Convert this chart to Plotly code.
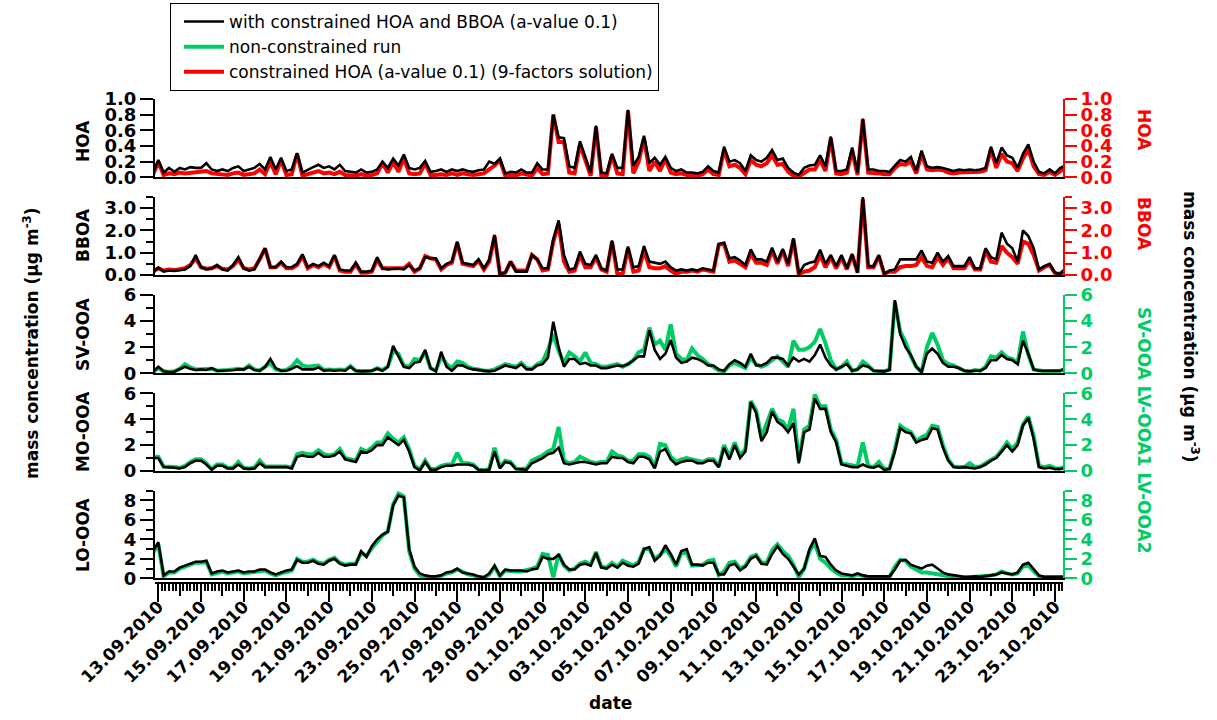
import plotly.graph_objects as go
from datetime import datetime, timedelta

# ---------------- data (6-hourly readings, first point 12.09.2010 18:00) ----------------
START = datetime(2010, 9, 12, 18, 0)
STEP_HOURS = 6

hoa_black = [0.05,
    0.22, 0.06, 0.12, 0.07,  0.12, 0.10, 0.13, 0.12,  0.12, 0.18, 0.10, 0.08,  0.10, 0.08, 0.12, 0.14,
    0.08, 0.10, 0.12, 0.17,  0.10, 0.26, 0.10, 0.25,  0.08, 0.10, 0.31, 0.06,  0.10, 0.13, 0.16, 0.12,
    0.14, 0.10, 0.16, 0.08,  0.07, 0.06, 0.10, 0.06,  0.07, 0.10, 0.20, 0.12,  0.24, 0.15, 0.29, 0.12,
    0.10, 0.12, 0.21, 0.07,  0.08, 0.10, 0.07, 0.10,  0.08, 0.10, 0.08, 0.07,  0.09, 0.10, 0.20, 0.17,
    0.24, 0.05, 0.07, 0.06,  0.10, 0.06, 0.06, 0.18,  0.10, 0.10, 0.80, 0.51,  0.50, 0.14, 0.12, 0.46,
    0.26, 0.06, 0.66, 0.06,  0.05, 0.30, 0.12, 0.12,  0.86, 0.15, 0.26, 0.53,  0.18, 0.25, 0.16, 0.26,
    0.12, 0.08, 0.10, 0.06,  0.06, 0.05, 0.07, 0.14,  0.08, 0.06, 0.39, 0.20,  0.22, 0.18, 0.08, 0.28,
    0.22, 0.20, 0.25, 0.35,  0.22, 0.24, 0.12, 0.06,  0.03, 0.12, 0.15, 0.16,  0.28, 0.14, 0.52, 0.08,
    0.08, 0.10, 0.38, 0.06,  0.75, 0.10, 0.10, 0.08,  0.08, 0.07, 0.15, 0.22,  0.20, 0.26, 0.08, 0.34,
    0.14, 0.12, 0.13, 0.12,  0.10, 0.08, 0.10, 0.09,  0.10, 0.09, 0.10, 0.12,  0.39, 0.18, 0.38, 0.28,
    0.25, 0.12, 0.30, 0.42,  0.20, 0.07, 0.05, 0.10,  0.05, 0.12, 0.15]

hoa_red = [0.03,
    0.20, 0.03, 0.05, 0.04,  0.06, 0.05, 0.06, 0.06,  0.07, 0.08, 0.05, 0.04,  0.04, 0.03, 0.05, 0.06,
    0.03, 0.04, 0.05, 0.10,  0.04, 0.20, 0.04, 0.22,  0.03, 0.04, 0.30, 0.02,  0.04, 0.06, 0.08, 0.05,
    0.06, 0.04, 0.07, 0.03,  0.02, 0.02, 0.04, 0.02,  0.03, 0.05, 0.18, 0.06,  0.20, 0.07, 0.25, 0.05,
    0.04, 0.05, 0.18, 0.03,  0.03, 0.04, 0.03, 0.05,  0.03, 0.05, 0.04, 0.03,  0.04, 0.05, 0.10, 0.15,
    0.22, 0.02, 0.03, 0.02,  0.05, 0.03, 0.02, 0.12,  0.04, 0.05, 0.80, 0.45,  0.45, 0.06, 0.05, 0.42,
    0.20, 0.02, 0.64, 0.02,  0.02, 0.28, 0.05, 0.04,  0.85, 0.05, 0.20, 0.50,  0.08, 0.20, 0.08, 0.24,
    0.06, 0.04, 0.05, 0.03,  0.03, 0.02, 0.04, 0.10,  0.04, 0.03, 0.35, 0.14,  0.16, 0.12, 0.04, 0.22,
    0.16, 0.14, 0.18, 0.28,  0.16, 0.17, 0.07, 0.02,  0.01, 0.06, 0.10, 0.10,  0.22, 0.08, 0.50, 0.05,
    0.04, 0.06, 0.34, 0.03,  0.74, 0.06, 0.06, 0.05,  0.04, 0.04, 0.12, 0.17,  0.16, 0.20, 0.05, 0.30,
    0.10, 0.09, 0.10, 0.09,  0.06, 0.05, 0.06, 0.06,  0.06, 0.06, 0.07, 0.09,  0.36, 0.12, 0.30, 0.20,
    0.18, 0.08, 0.24, 0.36,  0.14, 0.04, 0.03, 0.07,  0.03, 0.08, 0.12]

bboa_black = [0.15,
    0.33, 0.15, 0.20, 0.18,  0.20, 0.25, 0.40, 0.90,  0.35, 0.25, 0.30, 0.45,  0.25, 0.20, 0.45, 0.80,
    0.30, 0.20, 0.25, 0.70,  1.20, 0.35, 0.35, 0.60,  0.35, 0.35, 0.50, 0.93,  0.35, 0.50, 0.40, 0.55,
    0.40, 0.90, 0.25, 0.20,  0.20, 0.55, 0.15, 0.15,  0.20, 0.80, 0.30, 0.25,  0.28, 0.30, 0.25, 0.45,
    0.20, 0.30, 0.80, 0.75,  0.75, 0.30, 0.50, 0.60,  1.50, 0.55, 0.50, 0.45,  0.70, 0.30, 0.70, 1.80,
    0.05, 0.10, 0.60, 0.15,  0.15, 0.15, 0.90, 0.70,  0.30, 0.30, 1.60, 2.45,  0.90, 0.25, 0.30, 1.05,
    0.50, 0.45, 0.90, 0.30,  0.20, 1.55, 0.25, 0.25,  1.28, 0.35, 0.40, 1.30,  0.60, 0.55, 0.50, 0.60,
    0.35, 0.20, 0.25, 0.20,  0.25, 0.20, 0.30, 0.25,  0.20, 1.40, 1.45, 0.75,  0.80, 0.65, 0.45, 1.15,
    0.70, 0.70, 0.60, 1.23,  0.60, 1.17, 0.50, 1.65,  0.05, 0.45, 0.55, 0.60,  1.13, 0.50, 0.90, 0.40,
    0.90, 0.30, 0.95, 0.10,  3.50, 0.40, 0.40, 0.90,  0.05, 0.20, 0.25, 0.70,  0.70, 0.70, 0.70, 1.10,
    0.60, 0.55, 1.00, 0.60,  0.85, 0.40, 0.40, 0.40,  0.80, 0.30, 0.30, 1.20,  0.80, 0.70, 1.90, 1.40,
    1.20, 0.60, 2.00, 1.75,  1.20, 0.25, 0.40, 0.50,  0.10, 0.05, 0.30]

bboa_red = [0.15,
    0.30, 0.20, 0.25, 0.22,  0.25, 0.30, 0.45, 0.75,  0.35, 0.28, 0.30, 0.40,  0.28, 0.25, 0.40, 0.70,
    0.30, 0.25, 0.30, 0.70,  1.20, 0.35, 0.35, 0.55,  0.30, 0.30, 0.45, 0.85,  0.30, 0.45, 0.35, 0.50,
    0.35, 0.85, 0.20, 0.15,  0.15, 0.50, 0.10, 0.10,  0.15, 0.70, 0.30, 0.30,  0.30, 0.30, 0.30, 0.50,
    0.15, 0.30, 0.85, 0.75,  0.70, 0.25, 0.45, 0.55,  1.45, 0.50, 0.45, 0.40,  0.65, 0.25, 0.60, 1.75,
    0.05, 0.10, 0.60, 0.20,  0.20, 0.20, 0.90, 0.70,  0.20, 0.25, 1.50, 2.30,  0.60, 0.15, 0.20, 0.90,
    0.35, 0.35, 0.80, 0.25,  0.15, 1.50, 0.05, 0.05,  1.20, 0.15, 0.20, 1.10,  0.35, 0.30, 0.30, 0.40,
    0.20, 0.05, 0.15, 0.15,  0.20, 0.15, 0.25, 0.20,  0.15, 1.35, 1.40, 0.60,  0.65, 0.50, 0.35, 0.95,
    0.55, 0.55, 0.45, 1.10,  0.50, 1.10, 0.40, 1.60,  0.02, 0.15, 0.20, 0.35,  0.90, 0.35, 0.80, 0.30,
    0.80, 0.25, 0.90, 0.10,  3.40, 0.35, 0.35, 0.85,  0.05, 0.15, 0.15, 0.35,  0.40, 0.40, 0.45, 0.80,
    0.40, 0.35, 0.80, 0.45,  0.75, 0.30, 0.30, 0.30,  0.65, 0.25, 0.25, 1.10,  0.60, 0.55, 1.30, 1.00,
    0.80, 0.50, 1.50, 1.40,  0.90, 0.20, 0.35, 0.45,  0.08, 0.05, 0.25]

svooa_black = [0.10,
    0.50, 0.15, 0.10, 0.12,  0.30, 0.50, 0.35, 0.25,  0.30, 0.25, 0.40, 0.20,  0.20, 0.20, 0.25, 0.30,
    0.30, 0.50, 0.25, 0.20,  0.50, 1.10, 0.40, 0.20,  0.20, 0.35, 0.55, 0.30,  0.30, 0.30, 0.45, 0.20,
    0.25, 0.20, 0.25, 0.20,  0.50, 0.20, 0.15, 0.15,  0.20, 0.35, 0.20, 0.50,  2.10, 1.30, 0.50, 0.40,
    0.80, 0.90, 1.80, 0.40,  0.15, 1.65, 0.50, 0.20,  0.60, 0.60, 0.40, 0.30,  0.25, 0.20, 0.15, 0.20,
    0.40, 0.60, 0.50, 0.40,  0.70, 0.30, 0.30, 0.60,  0.70, 1.20, 3.95, 2.00,  0.50, 1.10, 1.10, 0.70,
    0.80, 0.60, 0.60, 0.40,  0.40, 0.50, 0.60, 0.55,  0.70, 1.00, 1.30, 1.30,  3.30, 1.80, 1.10, 1.50,
    2.55, 1.20, 0.80, 0.90,  1.20, 1.10, 0.90, 0.60,  0.60, 0.30, 0.20, 0.70,  1.00, 0.80, 0.50, 1.50,
    0.60, 0.60, 0.80, 1.20,  1.20, 1.10, 0.60, 1.20,  0.90, 1.10, 0.90, 1.40,  2.20, 1.20, 0.60, 0.30,
    0.50, 0.70, 0.20, 0.30,  0.60, 0.50, 0.20, 0.15,  0.15, 0.25, 5.60, 3.00,  2.00, 1.40, 0.50, 0.10,
    1.50, 1.90, 1.50, 0.80,  0.50, 0.50, 0.40, 0.20,  0.15, 0.20, 0.20, 0.40,  1.00, 1.00, 1.40, 1.10,
    1.00, 0.70, 2.50, 1.50,  0.30, 0.20, 0.20, 0.15,  0.20, 0.20, 0.35]

svooa_green = [0.10,
    0.40, 0.15, 0.10, 0.15,  0.35, 0.70, 0.45, 0.30,  0.30, 0.30, 0.35, 0.20,  0.20, 0.25, 0.30, 0.35,
    0.30, 0.60, 0.30, 0.20,  0.50, 0.80, 0.30, 0.20,  0.25, 0.50, 1.00, 0.60,  0.50, 0.55, 0.60, 0.25,
    0.30, 0.25, 0.30, 0.25,  0.55, 0.20, 0.15, 0.15,  0.20, 0.40, 0.25, 0.50,  1.70, 1.50, 0.60, 0.50,
    1.10, 1.00, 1.60, 0.40,  0.20, 1.30, 0.70, 0.40,  0.90, 0.80, 0.50, 0.35,  0.30, 0.20, 0.20, 0.30,
    0.50, 0.70, 0.60, 0.50,  0.80, 0.40, 0.35, 0.70,  0.90, 1.80, 3.00, 1.70,  0.80, 1.60, 1.30, 0.90,
    1.60, 0.80, 0.70, 0.50,  0.50, 0.60, 0.70, 0.50,  0.70, 1.00, 1.60, 1.80,  3.50, 2.20, 2.50, 1.80,
    3.75, 1.50, 1.10, 1.00,  1.90, 1.40, 1.10, 0.70,  0.50, 0.20, 0.15, 0.60,  0.80, 0.60, 0.40, 1.20,
    0.70, 0.50, 0.70, 1.00,  1.30, 0.90, 0.50, 2.50,  1.80, 1.80, 2.00, 2.40,  3.40, 2.30, 1.00, 0.30,
    0.50, 0.90, 0.20, 0.30,  0.90, 0.60, 0.20, 0.15,  0.15, 0.30, 5.50, 3.20,  2.40, 1.30, 0.50, 0.10,
    2.00, 3.10, 2.20, 1.00,  0.70, 0.60, 0.40, 0.20,  0.15, 0.25, 0.20, 0.50,  1.30, 1.20, 1.60, 1.20,
    1.10, 0.80, 3.20, 1.40,  0.30, 0.20, 0.15, 0.15,  0.20, 0.20, 0.35]

moooa_black = [1.00,
    1.00, 0.30, 0.30, 0.25,  0.20, 0.30, 0.60, 0.80,  0.80, 0.50, 0.10, 0.40,  0.40, 0.20, 0.20, 0.50,
    0.20, 0.15, 0.20, 0.60,  0.30, 0.30, 0.30, 0.35,  0.30, 0.20, 1.10, 1.20,  1.10, 1.10, 1.40, 1.10,
    1.10, 1.20, 1.50, 0.90,  0.80, 0.70, 1.50, 1.40,  1.60, 2.00, 2.00, 2.60,  2.30, 2.00, 2.40, 1.50,
    0.30, 0.05, 0.70, 0.10,  0.10, 0.30, 0.40, 0.40,  0.50, 0.50, 0.50, 0.40,  0.10, 0.05, 0.10, 1.50,
    0.20, 0.70, 0.60, 0.15,  0.10, 0.10, 0.60, 0.80,  1.00, 1.30, 1.40, 1.80,  0.60, 0.50, 0.60, 0.70,
    0.70, 0.60, 0.50, 0.60,  0.60, 1.10, 1.00, 1.00,  0.70, 0.60, 1.10, 1.10,  0.90, 0.20, 1.50, 1.70,
    0.90, 0.50, 0.70, 0.80,  0.80, 0.60, 0.60, 0.80,  0.80, 0.30, 1.80, 0.90,  2.00, 1.00, 1.50, 5.30,
    4.50, 2.30, 3.00, 4.60,  3.80, 3.50, 3.00, 3.70,  0.60, 3.00, 3.20, 5.60,  4.80, 4.80, 3.00, 2.20,
    0.50, 0.40, 0.30, 0.30,  0.50, 0.30, 0.25, 0.40,  0.10, 0.15, 1.50, 3.30,  3.00, 2.90, 2.20, 2.40,
    2.50, 3.30, 3.20, 1.80,  0.80, 0.30, 0.25, 0.30,  0.25, 0.20, 0.30, 0.50,  0.80, 1.00, 1.50, 2.00,
    1.50, 2.00, 3.50, 4.10,  2.50, 0.30, 0.20, 0.25,  0.15, 0.15, 0.30]

moooa_green = [1.10,
    1.10, 0.35, 0.35, 0.30,  0.25, 0.40, 0.70, 0.90,  0.90, 0.60, 0.15, 0.50,  0.50, 0.25, 0.25, 0.70,
    0.25, 0.20, 0.25, 0.80,  0.35, 0.35, 0.35, 0.40,  0.35, 0.25, 1.30, 1.40,  1.30, 1.30, 1.60, 1.30,
    1.20, 1.30, 1.70, 1.00,  0.90, 0.80, 1.70, 1.50,  1.80, 2.20, 2.20, 2.90,  2.50, 2.20, 2.60, 1.70,
    0.40, 0.10, 0.80, 0.15,  0.15, 0.40, 0.50, 0.50,  1.40, 0.60, 0.60, 0.50,  0.10, 0.05, 0.15, 1.80,
    0.30, 0.80, 0.70, 0.20,  0.15, 0.20, 0.80, 1.00,  1.20, 1.50, 1.70, 3.40,  0.80, 0.60, 0.70, 1.10,
    0.90, 0.70, 0.60, 0.70,  0.70, 1.50, 1.20, 1.10,  0.80, 0.80, 1.30, 1.30,  1.10, 0.30, 2.10, 2.00,
    1.10, 0.70, 0.90, 1.00,  0.90, 0.80, 0.70, 0.90,  0.90, 0.35, 2.00, 1.10,  2.20, 1.20, 1.70, 5.40,
    4.70, 2.60, 3.60, 4.80,  4.00, 3.80, 3.20, 4.80,  0.80, 3.20, 3.50, 5.90,  5.00, 5.00, 3.20, 2.40,
    0.60, 0.50, 0.40, 0.35,  2.20, 0.40, 0.30, 0.70,  0.15, 0.20, 1.70, 3.50,  3.20, 3.00, 2.30, 2.60,
    2.80, 3.50, 3.40, 2.00,  0.90, 0.35, 0.30, 0.30,  0.60, 0.30, 0.35, 0.60,  0.90, 1.10, 1.60, 2.20,
    1.70, 2.20, 3.60, 4.20,  2.70, 0.40, 0.30, 0.40,  0.20, 0.20, 0.30]

loooa_black = [2.80,
    3.70, 0.30, 0.70, 0.70,  1.10, 1.30, 1.50, 1.70,  1.70, 1.80, 0.50, 0.70,  0.80, 0.60, 0.70, 0.80,
    0.60, 0.70, 0.70, 0.90,  0.90, 0.60, 0.40, 0.60,  0.80, 0.90, 1.90, 1.60,  1.60, 1.80, 1.50, 1.40,
    1.80, 2.00, 1.50, 1.30,  1.40, 1.40, 2.80, 2.20,  3.30, 4.00, 4.50, 4.80,  7.50, 8.50, 8.30, 3.00,
    1.20, 0.50, 0.30, 0.20,  0.20, 0.30, 0.60, 0.70,  1.00, 0.60, 0.50, 0.40,  0.20, 0.10, 0.50, 1.30,
    0.30, 0.90, 0.80, 0.80,  0.80, 0.70, 0.90, 1.00,  2.20, 2.00, 2.00, 2.40,  1.40, 0.90, 0.90, 1.40,
    1.50, 1.30, 2.60, 1.10,  1.00, 1.40, 1.10, 1.60,  1.30, 1.20, 1.50, 3.00,  3.20, 1.80, 2.30, 3.40,
    2.50, 1.40, 2.80, 3.00,  1.40, 1.40, 1.30, 1.60,  1.60, 0.40, 0.40, 1.30,  1.50, 0.80, 1.20, 2.00,
    2.30, 1.50, 1.40, 2.50,  3.30, 2.50, 2.00, 1.20,  0.40, 1.00, 3.00, 4.10,  2.30, 2.20, 1.40, 0.80,
    0.50, 0.40, 0.30, 0.50,  0.30, 0.20, 0.20, 0.20,  0.15, 0.20, 0.90, 1.80,  1.90, 1.40, 1.20, 1.00,
    1.30, 1.40, 1.00, 0.60,  0.40, 0.30, 0.20, 0.15,  0.15, 0.20, 0.15, 0.20,  0.30, 0.40, 0.60, 0.50,
    0.40, 0.60, 1.40, 1.60,  1.00, 0.30, 0.15, 0.15,  0.15, 0.15, 0.15]

loooa_green = [2.60,
    3.50, 0.20, 0.60, 0.60,  1.00, 1.20, 1.40, 1.60,  1.60, 1.70, 0.40, 0.60,  0.70, 0.50, 0.60, 0.70,
    0.50, 0.60, 0.60, 0.80,  0.80, 0.50, 0.30, 0.50,  0.70, 0.80, 2.00, 1.70,  1.70, 1.90, 1.60, 1.50,
    1.90, 2.10, 1.60, 1.40,  1.50, 1.50, 2.60, 2.30,  3.10, 3.80, 4.40, 4.80,  7.60, 8.70, 8.40, 2.80,
    1.00, 0.30, 0.10, 0.05,  0.10, 0.25, 0.50, 0.60,  0.90, 0.60, 0.40, 0.30,  0.10, 0.05, 0.40, 1.20,
    0.20, 0.80, 0.70, 0.70,  0.70, 0.80, 1.00, 1.20,  2.50, 2.40, 0.10, 2.50,  1.30, 0.80, 1.00, 1.50,
    1.70, 1.40, 2.70, 1.20,  1.10, 1.60, 1.20, 1.80,  1.50, 1.30, 1.70, 3.00,  3.00, 2.00, 2.40, 3.00,
    2.30, 1.20, 2.60, 2.60,  1.30, 1.30, 1.40, 1.80,  1.90, 0.30, 0.70, 1.60,  1.70, 1.00, 1.30, 2.20,
    2.40, 1.60, 1.60, 2.90,  3.50, 2.80, 2.30, 1.40,  0.10, 1.00, 2.80, 3.60,  2.00, 1.60, 1.00, 0.60,
    0.30, 0.30, 0.20, 0.40,  0.20, 0.10, 0.10, 0.10,  0.10, 0.10, 1.20, 1.90,  1.80, 1.20, 0.90, 0.60,
    0.60, 0.50, 0.50, 0.40,  0.30, 0.10, 0.05, 0.05,  0.10, 0.10, 0.10, 0.20,  0.30, 0.40, 0.70, 0.50,
    0.40, 0.50, 1.20, 1.30,  0.80, 0.20, 0.10, 0.10,  0.10, 0.15, 0.15]

panel_names = ["HOA", "BBOA", "SV-OOA", "MO-OOA", "LO-OOA"]
right_names = ["HOA", "BBOA"]
right_group_name = "SV-OOA LV-OOA1 LV-OOA2"
legend_names = ["with constrained HOA and BBOA (a-value 0.1)",
                "non-constrained run",
                "constrained HOA (a-value 0.1) (9-factors solution)"]

date_range = ["2010-09-12 20:17", "2010-10-25 09:00"]

# ---------------- styling ----------------
BLACK = "#000000"
RED = "#FF0000"
GREEN = "#00CC66"
FONT = "DejaVu Sans"
W, H = 1217, 720
L_PX, R_PX = 155, 1063


def py(pix):
    return 1 - pix / H


def px(pix):
    return (pix - L_PX) / (R_PX - L_PX)


def times(n):
    return [START + timedelta(hours=STEP_HOURS * i) for i in range(n)]


panels = [
    dict(black=hoa_black, other=hoa_red, ocol=RED, top=99.0, bot=177.3, rng=[0, 1.0],
         tickvals=[0, 0.2, 0.4, 0.6, 0.8, 1.0], fmt=".1f", minor=None),
    dict(black=bboa_black, other=bboa_red, ocol=RED, top=197.0, bot=275.0, rng=[0, 3.5],
         tickvals=[0, 1, 2, 3], fmt=".1f", minor=0.5),
    dict(black=svooa_black, other=svooa_green, ocol=GREEN, top=295.0, bot=373.3, rng=[0, 6],
         tickvals=[0, 2, 4, 6], fmt="d", minor=1),
    dict(black=moooa_black, other=moooa_green, ocol=GREEN, top=393.3, bot=471.0, rng=[0, 6],
         tickvals=[0, 2, 4, 6], fmt="d", minor=1),
    dict(black=loooa_black, other=loooa_green, ocol=GREEN, top=490.7, bot=578.3, rng=[0, 9],
         tickvals=[0, 2, 4, 6, 8], fmt="d", minor=1),
]

fig = go.Figure()
layout = dict(
    width=W, height=H,
    margin=dict(l=L_PX, r=W - R_PX, t=0, b=0, autoexpand=False),
    paper_bgcolor="white", plot_bgcolor="white",
    font=dict(family=FONT, size=17, color=BLACK),
    showlegend=True,
    legend=dict(x=px(170), y=py(3), xanchor="left", yanchor="top",
                bordercolor=BLACK, borderwidth=1, bgcolor="white",
                font=dict(family=FONT, size=17, color=BLACK),
                tracegroupgap=0, itemwidth=40, indentation=8,
                entrywidth=480, entrywidthmode="pixels"),
)

bold_tick = dict(family=FONT, size=18, color=BLACK, weight="bold")

for i, p in enumerate(panels, start=1):
    xa = f"x{i}"
    ya = f"y{i}"
    yr = f"y{i + 5}"
    leg_other = False
    name_other = None
    if i == 1:
        leg_other, name_other, rank_o = True, legend_names[2], 3
    elif i == 3:
        leg_other, name_other, rank_o = True, legend_names[1], 2
    else:
        rank_o = 10
    fig.add_trace(go.Scatter(
        x=times(len(p["other"])), y=p["other"], xaxis=xa, yaxis=ya, mode="lines",
        line=dict(color=p["ocol"], width=4), name=name_other or "series",
        showlegend=leg_other, legendrank=rank_o, hoverinfo="skip"))
    fig.add_trace(go.Scatter(
        x=times(len(p["black"])), y=p["black"], xaxis=xa, yaxis=ya, mode="lines",
        line=dict(color=BLACK, width=2.6), name=legend_names[0],
        showlegend=(i == 1), legendrank=1, hoverinfo="skip"))
    fig.add_trace(go.Scatter(x=[START], y=[0], xaxis=xa, yaxis=yr, mode="lines",
                             line=dict(width=0), showlegend=False, hoverinfo="skip"))

    dom = [py(p["bot"]), py(p["top"])]
    sfx = "" if i == 1 else str(i)
    layout[f"xaxis{sfx}"] = dict(
        domain=[0, 1], range=date_range, type="date", anchor=ya,
        showline=True, linecolor=BLACK, linewidth=2, ticks="", showticklabels=False,
        showgrid=False, zeroline=False)
    ydict = dict(
        domain=dom, range=p["rng"], anchor=xa, showline=True, linecolor=BLACK, linewidth=2,
        ticks="outside", ticklen=13, tickwidth=2, tickcolor=BLACK,
        tickmode="array", tickvals=p["tickvals"], tickformat=p["fmt"],
        tickfont=bold_tick, showgrid=False, zeroline=False)
    if p["minor"]:
        ydict["minor"] = dict(dtick=p["minor"], ticks="outside", ticklen=7, tickwidth=2,
                              tickcolor=BLACK, showgrid=False)
    layout[f"yaxis{sfx}"] = ydict
    rcol = p["ocol"]
    rdict = dict(
        overlaying=ya, side="right", anchor=xa, range=p["rng"], showline=True,
        linecolor=rcol, linewidth=2, ticks="outside", ticklen=12, tickwidth=2,
        tickcolor=rcol, tickmode="array", tickvals=p["tickvals"], tickformat=p["fmt"],
        tickfont=dict(family=FONT, size=18, color=rcol, weight="bold"),
        showgrid=False, zeroline=False)
    if p["minor"]:
        rdict["minor"] = dict(dtick=p["minor"], ticks="outside", ticklen=7, tickwidth=2,
                              tickcolor=rcol, showgrid=False)
    layout[f"yaxis{i + 5}"] = rdict

for ax in ("x11", "x12"):
    fig.add_trace(go.Scatter(x=[START], y=[0], xaxis=ax, yaxis="y5", mode="lines",
                             line=dict(width=0), showlegend=False, hoverinfo="skip"))
axis_pos = py(583)
layout["xaxis11"] = dict(
    overlaying="x5", anchor="free", position=axis_pos, side="bottom", type="date",
    range=date_range, showline=True, linecolor=BLACK, linewidth=2,
    tickmode="linear", tick0="2010-09-13", dtick=2 * 86400000, tickformat="%d.%m.%Y",
    ticks="outside", ticklen=18, tickwidth=2, tickcolor=BLACK, tickangle=-45,
    ticklabelstandoff=-12,
    tickfont=dict(family=FONT, size=17, color=BLACK, weight="bold"),
    minor=dict(dtick=4 * 3600000, tick0="2010-09-13", ticks="outside", ticklen=7,
               tickwidth=1.5, tickcolor=BLACK, showgrid=False),
    showgrid=False, zeroline=False)
layout["xaxis12"] = dict(
    overlaying="x5", anchor="free", position=axis_pos, side="bottom", type="date",
    range=date_range, showline=False, tickmode="linear", tick0="2010-09-14",
    dtick=86400000, ticks="outside", ticklen=12, tickwidth=2, tickcolor=BLACK,
    showticklabels=False, showgrid=False, zeroline=False)

bold17 = dict(family=FONT, size=17, color=BLACK, weight="bold")


def note(text, xp, yp, font, angle=0):
    return dict(text=text, x=px(xp), y=py(yp), xref="paper", yref="paper",
                textangle=angle, showarrow=False, font=font,
                xanchor="center", yanchor="middle")


ann = []
left_centers = [141, 235, 334, 432, 535]
for name, yc in zip(panel_names, left_centers):
    ann.append(note(name, 83, yc, bold17, -90))
red17 = dict(family=FONT, size=17, color=RED, weight="bold")
green17 = dict(family=FONT, size=17, color=GREEN, weight="bold")
ann.append(note(right_names[0], 1144, 130, red17, 90))
ann.append(note(right_names[1], 1144, 224, red17, 90))
ann.append(note(right_group_name, 1144, 430, green17, 90))
ann.append(note("mass concentration (µg m<sup>-3</sup>)", 31, 343, bold17, -90))
ann.append(note("mass concentration (µg m<sup>-3</sup>)", 1191, 327, bold17, 90))
ann.append(note("date", 610, 703, bold17))
layout["annotations"] = ann

fig.update_layout(**layout)
fig.write_html("out.html")
